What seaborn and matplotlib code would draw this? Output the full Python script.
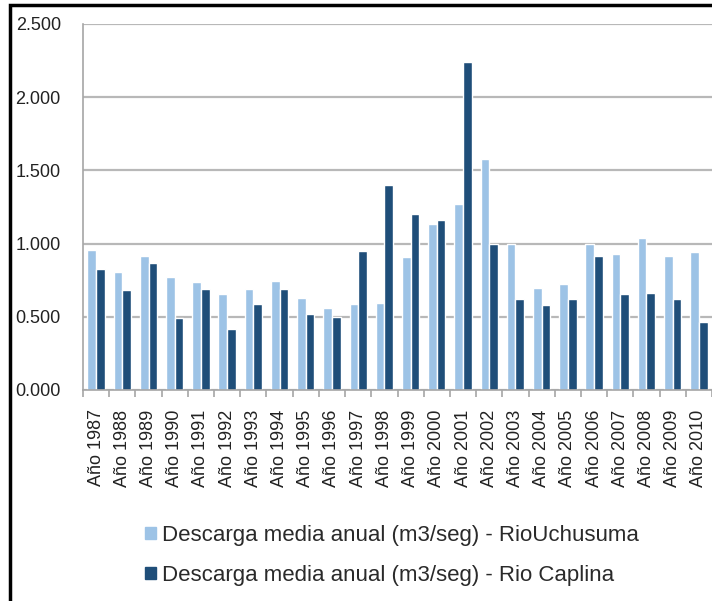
import numpy as np
import pandas as pd
import matplotlib
matplotlib.use("Agg")
import matplotlib.pyplot as plt
import seaborn as sns
from matplotlib.ticker import FuncFormatter
from matplotlib.patches import Rectangle

years = [f"Año {y}" for y in range(1987, 2011)]
uchusuma = [0.956, 0.808, 0.917, 0.770, 0.738, 0.656, 0.688, 0.747, 0.631, 0.558,
            0.587, 0.597, 0.906, 1.132, 1.268, 1.580, 0.995, 0.694, 0.722, 0.995,
            0.927, 1.036, 0.915, 0.940]
caplina = [0.824, 0.683, 0.870, 0.490, 0.688, 0.415, 0.587, 0.692, 0.517, 0.497,
           0.952, 1.400, 1.200, 1.159, 2.243, 0.999, 0.619, 0.583, 0.624, 0.915,
           0.654, 0.665, 0.619, 0.462]
series_names = ["Descarga media anual (m3/seg) - RioUchusuma",
                "Descarga media anual (m3/seg) - Rio Caplina"]
colors = ["#9dc3e6", "#1f4e79"]

df = pd.DataFrame({
    "year": years * 2,
    "value": uchusuma + caplina,
    "serie": [series_names[0]] * len(years) + [series_names[1]] * len(years),
})

sns.set_theme(style="white")
plt.rcParams["font.family"] = ["Liberation Sans", "DejaVu Sans"]

fig = plt.figure(figsize=(7.12, 6.01), dpi=100)
ax = fig.add_axes([83 / 712, (601 - 390) / 601, 1 - 83 / 712, (390 - 24) / 601])

sns.barplot(data=df, x="year", y="value", hue="serie", palette=colors,
            width=0.66, gap=0, saturation=1, ax=ax, legend=True)

ax.set_ylim(0, 2.5)
ax.set_xlim(-0.5, len(years) - 0.5)
ax.set_yticks([0, 0.5, 1.0, 1.5, 2.0, 2.5])
ax.yaxis.set_major_formatter(FuncFormatter(lambda v, p: f"{v:.3f}"))
ax.yaxis.grid(True, color="#b8b8b8", linewidth=1.6)
ax.set_axisbelow(True)
ax.set_xlabel("")
ax.set_ylabel("")

for s in ["top", "right"]:
    ax.spines[s].set_visible(False)
for s in ["left", "bottom"]:
    ax.spines[s].set_color("#a6a6a6")
    ax.spines[s].set_linewidth(1.2)

ax.tick_params(axis="y", length=0, pad=16, labelsize=13, labelcolor="#222222")
ax.tick_params(axis="x", which="major", length=0, pad=14, labelsize=13,
               labelrotation=90, labelcolor="#222222")
ax.set_xticks(np.arange(-0.5, len(years), 1), minor=True)
ax.tick_params(axis="x", which="minor", length=5, color="#a6a6a6", width=1.2,
               direction="out", bottom=True)

ax.legend_.remove()
handles = [Rectangle((0, 0), 1, 1, color=c) for c in colors]
fig.legend(handles, series_names, loc="upper left",
           bbox_to_anchor=(125 / 712, 1 - 505 / 601), frameon=False,
           fontsize=16, handlelength=0.5, handleheight=0.5,
           handletextpad=0.25, labelspacing=0.85, labelcolor="#2a2a2a")

fig.patches.append(Rectangle((10 / 712, -0.1), 1.2, 1 - 5 / 601 + 0.1,
                             transform=fig.transFigure, fill=False,
                             edgecolor="black", linewidth=2.5))

fig.savefig("out.png", dpi=100)
